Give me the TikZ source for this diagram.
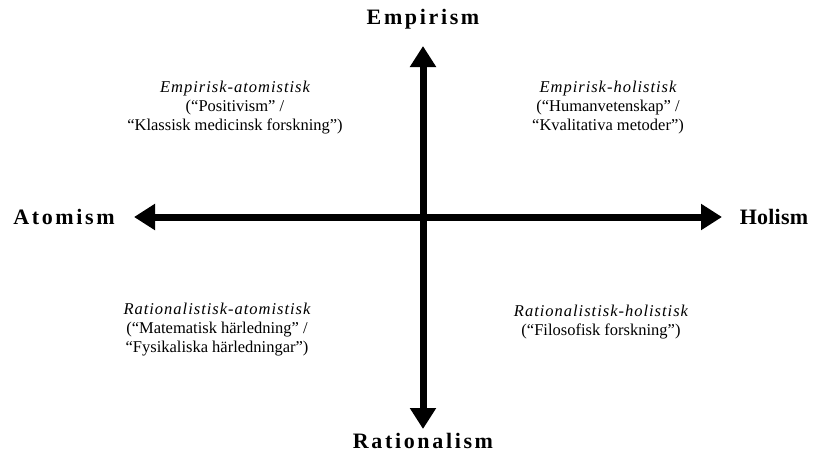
\documentclass[tikz,border=0pt]{standalone}
\usepackage{fontspec}
\setmainfont{Liberation Serif}
\usetikzlibrary{arrows.meta}
\tikzset{
  axis/.style={line width=7pt, -{Triangle[length=21pt,width=25pt]}},
  pole/.style={font=\fontsize{22}{24}\selectfont\bfseries\addfontfeature{LetterSpace=12}, inner sep=0pt},
  quad/.style={align=center, font=\fontsize{16.5}{19}\selectfont, inner sep=0pt},
}
\newcommand{\qhead}[1]{{\itshape\addfontfeature{LetterSpace=6}#1}}
\begin{document}
\begin{tikzpicture}[x=1pt,y=-1pt]
\useasboundingbox[fill=white] (0,0) rectangle (819,458);
\coordinate (c) at (423,217);
\coordinate (top) at (423,46);
\coordinate (bot) at (423,429);
\coordinate (lft) at (134,217);
\coordinate (rgt) at (722,217);
\draw[axis] (c) -- (top);
\draw[axis] (c) -- (bot);
\draw[axis] (c) -- (lft);
\draw[axis] (c) -- (rgt);
\node[pole] (emp) at (423,19) {Empirism};
\node[pole] (rat) at (423,441) {Rationalism};
\node[pole] (ato) at (64,217) {Atomism};
\node[pole, font=\fontsize{22}{24}\selectfont\bfseries\addfontfeature{LetterSpace=1}] (hol) at (774,217) {Holism};
\node[quad] (ea) at (235,108) {\qhead{Empirisk-atomistisk}\\(“Positivism” /\\“Klassisk medicinsk forskning”)};
\node[quad] (eh) at (608,108) {\qhead{Empirisk-holistisk}\\(“Humanvetenskap” /\\“Kvalitativa metoder”)};
\node[quad] (ra) at (217,330) {\qhead{Rationalistisk-atomistisk}\\(“Matematisk härledning” /\\“Fysikaliska härledningar”)};
\node[quad] (rh) at (601,322) {\qhead{Rationalistisk-holistisk}\\(“Filosofisk forskning”)};
\end{tikzpicture}
\end{document}
